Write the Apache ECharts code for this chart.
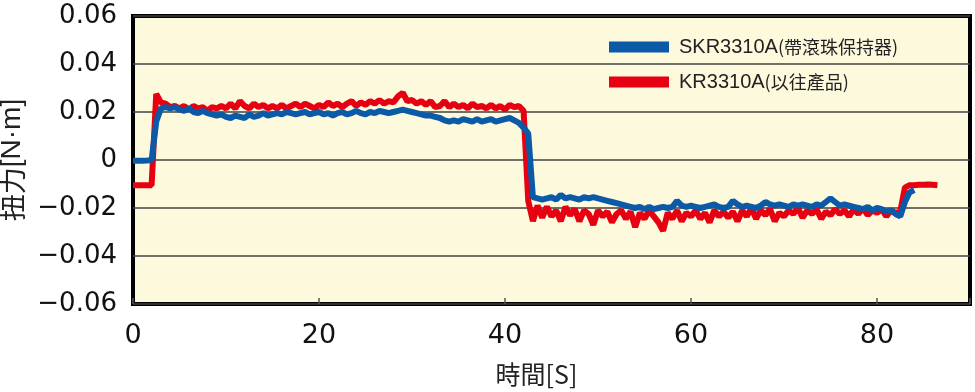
<!DOCTYPE html>
<html>
<head>
<meta charset="utf-8">
<script src="https://cdn.jsdelivr.net/npm/echarts@6/dist/echarts.min.js"></script>
<style>
html,body{margin:0;padding:0;background:#fff;}
#c{width:975px;height:392px;}
</style>
</head>
<body>
<div id="c"></div>
<script>
// ---- data ----
const seriesNames = ['SKR3310A', 'KR3310A'];
const seriesNotes = ['(帶滾珠保持器)', '(以往產品)'];
const xTicks = [0, 20, 40, 60, 80];
const yTicks = [-0.06, -0.04, -0.02, 0, 0.02, 0.04, 0.06];
const sampleStep = 0.5; // seconds between samples
const blueValues = [
-0.0003,-0.0003,-0.0003,-0.0002,0.0000,
0.016,0.0215,0.022,0.0215,0.022,0.021,0.0205,0.0215,0.02,0.0195,
0.0205,0.0195,0.019,0.0185,0.019,0.018,0.0175,0.0185,0.018,0.0175,
0.019,0.018,0.0185,0.0195,0.0185,0.019,0.0195,0.019,0.02,0.0195,
0.019,0.0195,0.02,0.019,0.0195,0.02,0.019,0.0195,0.0185,0.0195,
0.02,0.019,0.0195,0.0205,0.0195,0.019,0.02,0.0195,0.0205,0.02,
0.0195,0.02,0.0205,0.021,0.0205,0.02,0.0195,0.019,0.0185,0.0185,
0.018,0.0175,0.0165,0.016,0.0165,0.016,0.017,0.0165,0.016,0.017,
0.016,0.0165,0.017,0.016,0.0165,0.017,0.0175,0.0165,0.0155,0.0135,
0.011,-0.0155,-0.016,-0.0165,-0.016,-0.0155,-0.0165,-0.0145,-0.016,-0.0155,
-0.016,-0.0165,-0.0155,-0.016,-0.0155,-0.016,-0.0165,-0.017,-0.0175,-0.018,
-0.0185,-0.019,-0.0195,-0.02,-0.0195,-0.0205,-0.0195,-0.0205,-0.02,-0.0195,
-0.02,-0.0195,-0.017,-0.019,-0.0195,-0.019,-0.0195,-0.02,-0.0195,-0.019,
-0.0185,-0.0195,-0.02,-0.0195,-0.017,-0.0185,-0.0195,-0.019,-0.0195,-0.02,
-0.019,-0.0175,-0.0185,-0.019,-0.0185,-0.019,-0.0195,-0.0185,-0.019,-0.0185,
-0.019,-0.0195,-0.0185,-0.019,-0.0175,-0.016,-0.0175,-0.019,-0.0185,-0.019,
-0.0195,-0.02,-0.0205,-0.0195,-0.021,-0.02,-0.0205,-0.0215,-0.021,-0.0225,
-0.0235,-0.0175,-0.0135,-0.0125
];
const redValues = [
-0.0105,-0.0105,-0.0105,-0.0105,-0.0105,
0.0275,0.024,0.0235,0.022,0.0225,0.0215,0.0225,0.021,0.0225,0.0215,
0.022,0.0205,0.022,0.0215,0.0225,0.0215,0.0235,0.0215,0.0245,0.0225,
0.0215,0.0235,0.022,0.023,0.0215,0.0225,0.0215,0.023,0.0215,0.0225,
0.0235,0.022,0.0235,0.0225,0.0215,0.023,0.022,0.024,0.0225,0.0235,
0.022,0.0235,0.0245,0.0225,0.024,0.023,0.0245,0.0235,0.025,0.0235,
0.0245,0.024,0.0265,0.028,0.0245,0.025,0.0235,0.0245,0.023,0.0245,
0.022,0.0225,0.0245,0.022,0.0235,0.022,0.023,0.0215,0.0235,0.022,
0.0225,0.0215,0.023,0.0215,0.0225,0.021,0.023,0.022,0.0225,0.0205,
-0.017,-0.0255,-0.019,-0.024,-0.0195,-0.0235,-0.021,-0.0255,-0.0195,-0.023,
-0.0205,-0.0255,-0.021,-0.0225,-0.027,-0.021,-0.0235,-0.0215,-0.026,-0.0225,
-0.021,-0.0245,-0.0215,-0.028,-0.022,-0.0245,-0.021,-0.0235,-0.026,-0.0295,
-0.022,-0.0245,-0.021,-0.0255,-0.022,-0.0235,-0.021,-0.0245,-0.022,-0.026,
-0.021,-0.0235,-0.0215,-0.024,-0.0215,-0.0255,-0.021,-0.0235,-0.02,-0.0245,
-0.021,-0.023,-0.0205,-0.0255,-0.022,-0.0235,-0.021,-0.0225,-0.02,-0.024,
-0.021,-0.0225,-0.0205,-0.0245,-0.0215,-0.023,-0.0205,-0.0225,-0.021,-0.0235,
-0.0205,-0.0225,-0.02,-0.023,-0.021,-0.022,-0.0205,-0.0235,-0.021,-0.022,
-0.0215,-0.0115,-0.0105,-0.0105,-0.0103,-0.0103,-0.0102,-0.0103,-0.0105
];

function pairs(vals){ return vals.map((v,i)=>[i*sampleStep, v]); }

const chart = echarts.init(document.getElementById('c'), null, {renderer:'canvas'});
const fontLatin = '"Liberation Sans", Arial, "Noto Sans CJK TC", sans-serif';
const fontNum = '"DejaVu Sans", "Liberation Sans", sans-serif';
const fontCJK = '"Noto Sans CJK TC", "Noto Sans CJK JP", sans-serif';

const legendRich = {
  a:{fontFamily:fontLatin, fontSize:20, color:'#222', padding:[0,0,0,5]},
  b:{fontFamily:fontCJK, fontSize:18, color:'#222'}
};

chart.setOption({
  animation:false,
  backgroundColor:'#ffffff',
  grid:{left:133, right:5, top:16, bottom:88, show:true, containLabel:false,
        outerBoundsMode:'none',
        backgroundColor:'#fdf9dc', borderColor:'#000', borderWidth:4},
  legend:{
    orient:'vertical', left:609, top:37, padding:0, itemWidth:60, itemHeight:11, itemGap:15,
    icon:'rect', data:[seriesNames[0], seriesNames[1]],
    formatter:function(n){ const i = seriesNames.indexOf(n); return '{a|'+n+'}{b|'+seriesNotes[i]+'}'; },
    textStyle:{rich:legendRich}
  },
  xAxis:{
    type:'value', min:0, max:90, interval:20,
    name:'時間[S]', nameLocation:'middle', nameGap:58,
    nameTextStyle:{fontFamily:fontCJK, fontSize:25, color:'#222', padding:[0,0,0,-30]},
    axisLine:{show:false, onZero:false},
    axisTick:{show:true, inside:true, length:6, lineStyle:{color:'#555', width:1.5}},
    splitLine:{show:false},
    axisLabel:{fontFamily:fontNum, fontSize:27, color:'#111', margin:18,
      formatter:function(v){ return xTicks.indexOf(v)>=0 ? String(v) : ''; }}
  },
  yAxis:{
    type:'value', min:-0.06, max:0.06, interval:0.02,
    name:'{c|扭力}{d|[N·m]}', nameLocation:'middle', nameGap:103, nameRotate:90,
    nameTextStyle:{color:'#222', rich:{
      c:{fontFamily:fontCJK, fontSize:27, color:'#222'},
      d:{fontFamily:fontLatin, fontSize:28, color:'#222'}}},
    axisLine:{show:false, onZero:false}, axisTick:{show:false},
    splitLine:{show:true, lineStyle:{color:'#404040', width:1.6}},
    axisLabel:{fontFamily:fontNum, fontSize:26, color:'#111', margin:16,
      formatter:function(v){ const r = Math.round(v*100)/100; if (Math.abs(r)<1e-9) return '0';
        return (r<0?'\u2212':'') + Math.abs(r).toFixed(2); }}
  },
  series:[
    {name:seriesNames[1], type:'line', data:pairs(redValues), showSymbol:false, symbol:'none',
     lineStyle:{color:'#e60012', width:6}, itemStyle:{color:'#e60012'}, z:2},
    {name:seriesNames[0], type:'line', data:pairs(blueValues), showSymbol:false, symbol:'none',
     lineStyle:{color:'#0b5aa8', width:6}, itemStyle:{color:'#0b5aa8'}, z:3}
  ]
});
</script>
</body>
</html>
